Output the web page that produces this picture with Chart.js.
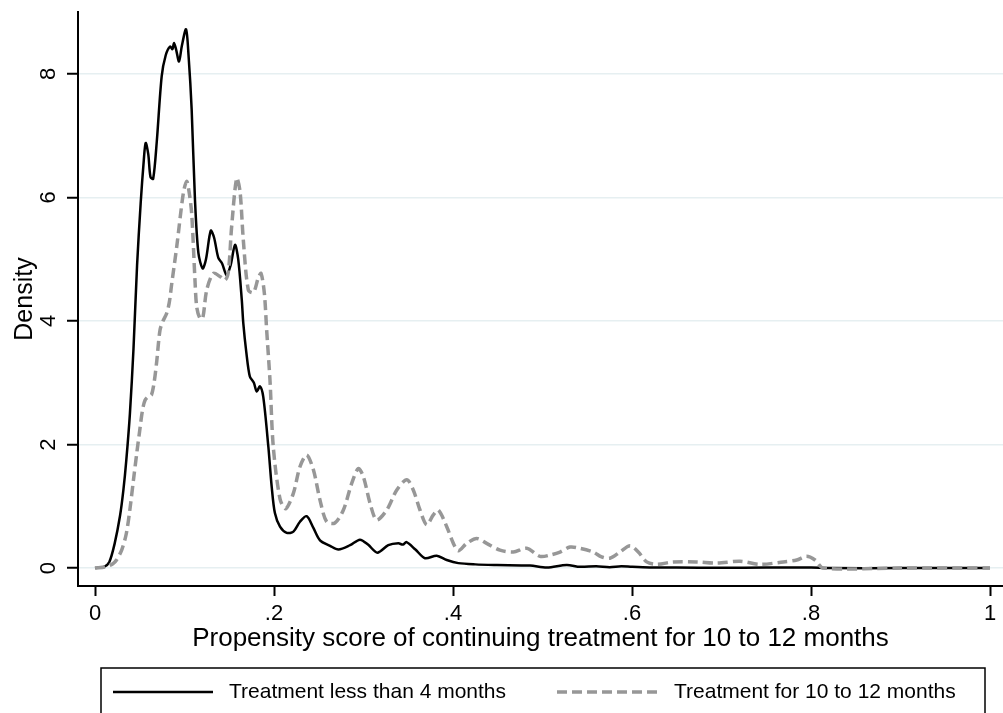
<!DOCTYPE html>
<html>
<head>
<meta charset="utf-8">
<script src="https://cdn.jsdelivr.net/npm/chart.js@4/dist/chart.umd.min.js"></script>
<style>
    html, body { margin: 0; padding: 0; background: #fff; overflow: hidden; }
    #wrap { position: absolute; left: 0; top: 0; width: 1003px; height: 713px; }
</style>
</head>
<body>
<div id="wrap"><canvas id="densityChart"></canvas></div>
<script>
// propensity score grid and density for "less than 4 months"
const xShort = [0, 0.01, 0.016, 0.022, 0.028, 0.0317, 0.035, 0.039, 0.043, 0.047, 0.051, 0.0545, 0.0566, 0.0595, 0.062, 0.065, 0.069, 0.0745, 0.079, 0.0838, 0.0865, 0.0883, 0.0905, 0.0939, 0.097, 0.1017, 0.1045, 0.108, 0.1117, 0.1155, 0.1203, 0.124, 0.1293, 0.133, 0.1378, 0.142, 0.1471, 0.1515, 0.1564, 0.16, 0.164, 0.1657, 0.169, 0.173, 0.1775, 0.1806, 0.1844, 0.188, 0.1937, 0.1974, 0.201, 0.2067, 0.2142, 0.2217, 0.229, 0.2365, 0.244, 0.2514, 0.2626, 0.272, 0.285, 0.296, 0.305, 0.3155, 0.3277, 0.339, 0.344, 0.348, 0.358, 0.3687, 0.3818, 0.393, 0.406, 0.425, 0.449, 0.486, 0.505, 0.527, 0.542, 0.56, 0.575, 0.588, 0.6, 0.62, 0.65, 0.7, 0.75, 0.8, 0.82, 0.9, 1.0];
const yShort = [0, 0.02, 0.1, 0.4, 0.85, 1.26, 1.75, 2.5, 3.55, 4.9, 5.9, 6.6, 6.88, 6.7, 6.33, 6.3, 6.9, 7.96, 8.3, 8.44, 8.4, 8.5, 8.4, 8.2, 8.45, 8.72, 8.3, 7.42, 5.96, 5.1, 4.85, 5.0, 5.46, 5.35, 5.02, 4.93, 4.74, 4.9, 5.23, 5.0, 4.34, 3.96, 3.5, 3.1, 3.0, 2.86, 2.94, 2.77, 1.96, 1.32, 0.89, 0.67, 0.57, 0.59, 0.75, 0.84, 0.65, 0.45, 0.36, 0.3, 0.37, 0.46, 0.38, 0.25, 0.37, 0.4, 0.38, 0.42, 0.3, 0.16, 0.2, 0.13, 0.08, 0.06, 0.05, 0.04, 0.01, 0.05, 0.02, 0.03, 0.015, 0.03, 0.02, 0.01, 0.01, 0.005, 0.01, 0.01, 0, 0, 0];

// propensity score grid and density for "10 to 12 months"
const xLong = [0, 0.012, 0.02, 0.024, 0.03, 0.035, 0.039, 0.043, 0.047, 0.05, 0.053, 0.056, 0.06, 0.063, 0.066, 0.069, 0.0726, 0.076, 0.08, 0.083, 0.0857, 0.0913, 0.0987, 0.1024, 0.105, 0.108, 0.1117, 0.1136, 0.117, 0.1203, 0.1248, 0.1322, 0.1396, 0.1453, 0.149, 0.1527, 0.1583, 0.162, 0.1657, 0.1713, 0.177, 0.1825, 0.1855, 0.1892, 0.1918, 0.1955, 0.1992, 0.2067, 0.213, 0.2216, 0.229, 0.2365, 0.244, 0.2514, 0.2588, 0.268, 0.2775, 0.2868, 0.2942, 0.2998, 0.3073, 0.3147, 0.326, 0.337, 0.3483, 0.3557, 0.3631, 0.3706, 0.378, 0.3836, 0.393, 0.4004, 0.406, 0.4153, 0.4265, 0.4376, 0.4525, 0.4674, 0.4823, 0.4972, 0.5084, 0.5196, 0.5307, 0.5419, 0.5568, 0.566, 0.5754, 0.5866, 0.5978, 0.607, 0.6164, 0.6276, 0.646, 0.672, 0.6946, 0.7207, 0.743, 0.769, 0.784, 0.795, 0.8045, 0.8138, 0.9, 1.0];
const yLong = [0, 0.02, 0.07, 0.13, 0.3, 0.56, 0.95, 1.43, 1.9, 2.23, 2.55, 2.72, 2.78, 2.8, 3.0, 3.35, 3.85, 4.0, 4.12, 4.3, 4.6, 5.2, 6.07, 6.26, 6.1, 5.74, 4.66, 4.23, 4.05, 4.04, 4.5, 4.77, 4.72, 4.66, 4.8, 5.53, 6.31, 6.1, 5.31, 4.5, 4.46, 4.7, 4.77, 4.45, 3.85, 3.04, 1.96, 1.12, 0.96, 1.21, 1.64, 1.83, 1.59, 1.1, 0.75, 0.73, 0.94, 1.37, 1.61, 1.48, 1.05, 0.78, 0.94, 1.26, 1.43, 1.26, 0.94, 0.7, 0.86, 0.94, 0.67, 0.4, 0.28, 0.4, 0.48, 0.4, 0.29, 0.26, 0.32, 0.19, 0.21, 0.26, 0.34, 0.32, 0.26, 0.18, 0.16, 0.26, 0.36, 0.26, 0.1, 0.06, 0.1, 0.1, 0.08, 0.11, 0.06, 0.1, 0.13, 0.19, 0.13, 0, 0, 0];

const seriesNames = ["Treatment less than 4 months", "Treatment for 10 to 12 months"];
const xTickValues = [0, 0.2, 0.4, 0.6, 0.8, 1];
const xTickLabels = ["0", ".2", ".4", ".6", ".8", "1"];
const yTickValues = [0, 2, 4, 6, 8];
const yTickLabels = ["0", "2", "4", "6", "8"];

const FONT = "'Liberation Sans', Arial, sans-serif";

function toPoints(xs, ys) {
    return xs.map((x, i) => ({ x: x, y: ys[i] }));
}

// legend in a frame, like the Stata one under the plot
const boxLegend = {
    id: "boxLegend",
    afterDraw(chart) {
        const ctx = chart.ctx;
        const cy = 692;
        const items = [
            { lineX: 113, textX: 229 },
            { lineX: 557, textX: 674 }
        ];
        ctx.save();
        ctx.strokeStyle = "#000";
        ctx.lineWidth = 1.5;
        ctx.setLineDash([]);
        ctx.strokeRect(101, 668, 884, 60);
        chart.data.datasets.forEach((ds, i) => {
            const it = items[i];
            ctx.beginPath();
            ctx.strokeStyle = ds.borderColor;
            ctx.lineWidth = ds.borderWidth;
            ctx.setLineDash(ds.borderDash || []);
            ctx.moveTo(it.lineX, cy);
            ctx.lineTo(it.lineX + 100, cy);
            ctx.stroke();
            ctx.setLineDash([]);
            ctx.fillStyle = "#000";
            ctx.font = "21px " + FONT;
            ctx.textBaseline = "middle";
            ctx.textAlign = "left";
            ctx.fillText(ds.label, it.textX, cy);
        });
        ctx.restore();
    }
};

const ctx = document.getElementById("densityChart").getContext("2d");
new Chart(ctx, {
    type: "line",
    data: {
        datasets: [
            {
                label: seriesNames[0],
                data: toPoints(xShort, yShort),
                borderColor: "#000000",
                borderWidth: 2.5,
                pointRadius: 0,
                tension: 0.3,
                fill: false,
                order: 1
            },
            {
                label: seriesNames[1],
                data: toPoints(xLong, yLong),
                borderColor: "#979797",
                borderWidth: 3.5,
                borderDash: [10, 5],
                pointRadius: 0,
                tension: 0.3,
                fill: false,
                order: 0
            }
        ]
    },
    options: {
        responsive: true,
        maintainAspectRatio: false,
        animation: false,
        events: [],
        layout: {
            padding: { top: 12, left: 0, right: 0, bottom: 45 }
        },
        plugins: {
            legend: { display: false },
            tooltip: { enabled: false }
        },
        scales: {
            x: {
                type: "linear",
                min: -0.019,
                max: 1.0145,
                afterBuildTicks: (scale) => {
                    scale.ticks = xTickValues.map(v => ({ value: v }));
                },
                afterFit: (scale) => {
                    scale.height = 82;
                    scale.paddingLeft = 0;
                    scale.paddingRight = 0;
                },
                ticks: {
                    autoSkip: false,
                    maxRotation: 0,
                    padding: 5,
                    color: "#000",
                    font: { family: FONT, size: 22 },
                    callback: (value, index) => xTickLabels[index]
                },
                grid: {
                    drawOnChartArea: false,
                    drawTicks: true,
                    tickLength: 10,
                    tickColor: "#000",
                    tickWidth: 2
                },
                border: { display: true, color: "#000", width: 2 },
                title: {
                    display: true,
                    text: "Propensity score of continuing treatment for 10 to 12 months",
                    color: "#000",
                    font: { family: FONT, size: 26 },
                    padding: { top: 0, bottom: 14 }
                }
            },
            y: {
                type: "linear",
                min: -0.29,
                max: 9.0,
                afterBuildTicks: (scale) => {
                    scale.ticks = yTickValues.map(v => ({ value: v }));
                },
                afterFit: (scale) => {
                    scale.width = 78;
                    scale.paddingTop = 0;
                    scale.paddingBottom = 0;
                },
                ticks: {
                    minRotation: 90,
                    maxRotation: 90,
                    crossAlign: "center",
                    padding: 12,
                    color: "#000",
                    font: { family: FONT, size: 22 },
                    callback: (value, index) => yTickLabels[index]
                },
                grid: {
                    color: "#e6eff1",
                    lineWidth: 1.5,
                    drawTicks: true,
                    tickLength: 11,
                    tickColor: "#000",
                    tickWidth: 2
                },
                border: { display: true, color: "#000", width: 2 },
                title: {
                    display: true,
                    text: "Density",
                    color: "#000",
                    font: { family: FONT, size: 25 },
                    padding: { top: 10, bottom: 0 }
                }
            }
        }
    },
    plugins: [boxLegend]
});
</script>
</body>
</html>
